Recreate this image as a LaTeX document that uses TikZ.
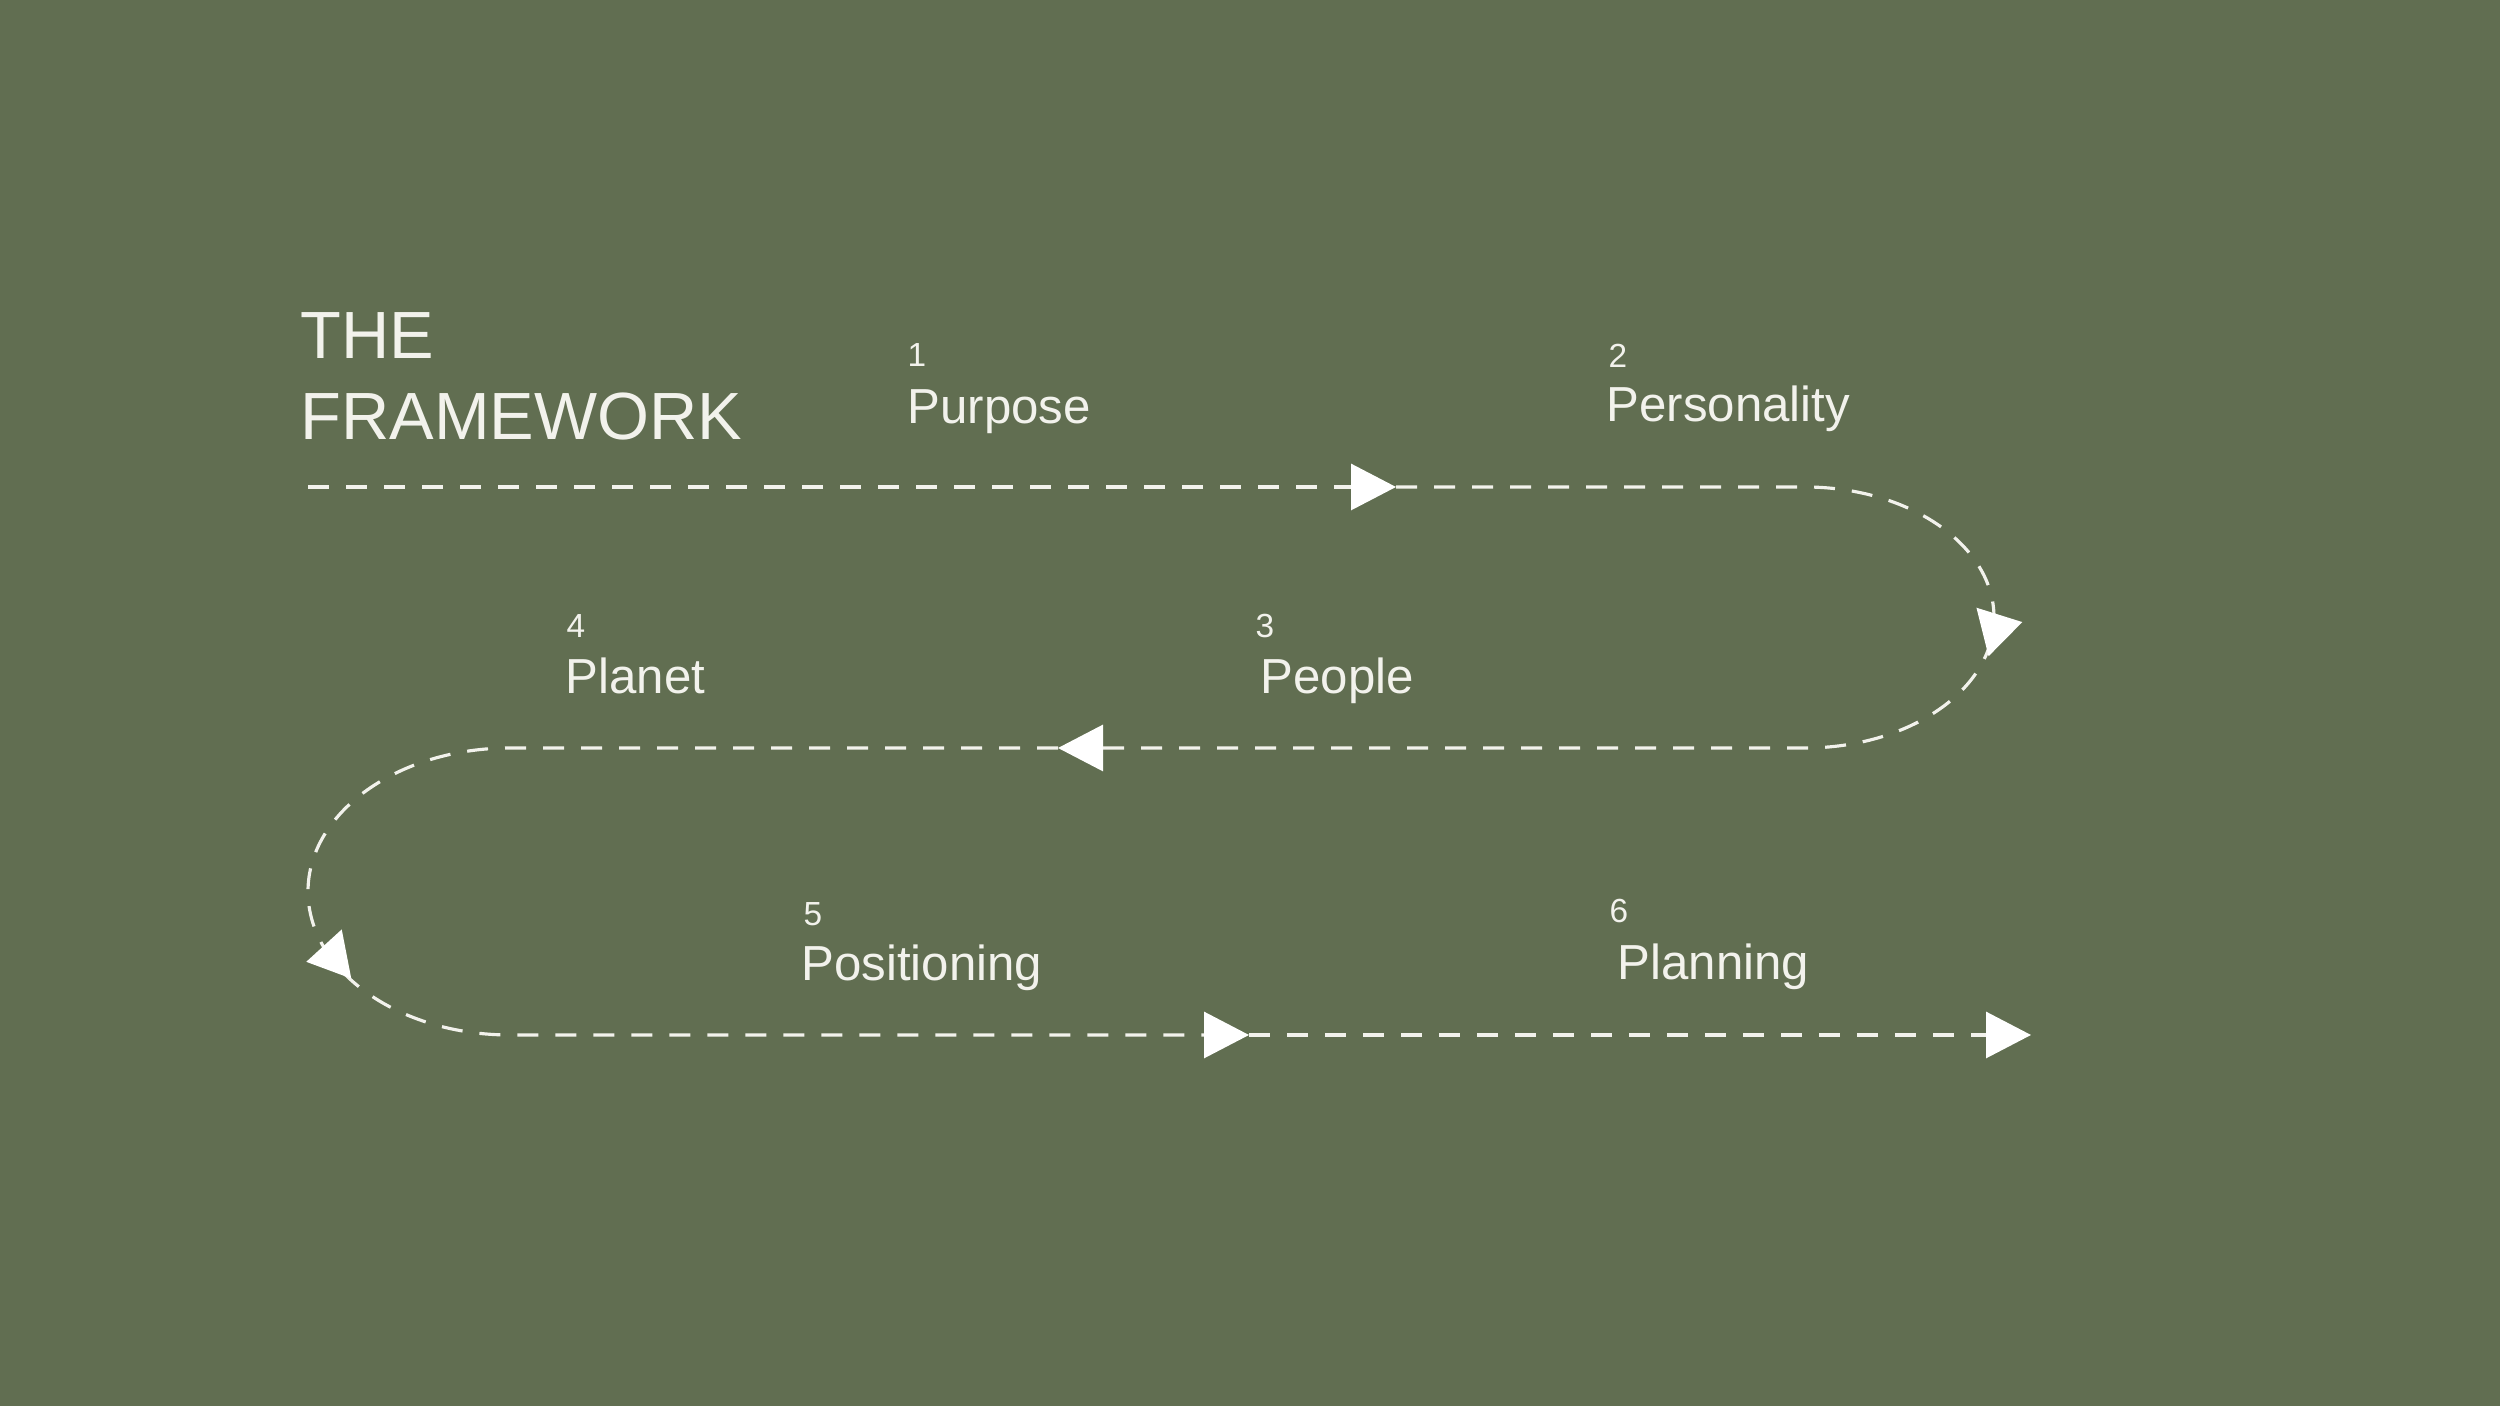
\documentclass[tikz,border=0pt]{standalone}
\usepackage{fontspec}
\setmainfont{Liberation Sans}
\usepackage{xcolor}
\usetikzlibrary{arrows.meta,calc}
\definecolor{sage}{HTML}{616E51}
\definecolor{chalk}{HTML}{F2F2EC}

\begin{document}
\begin{tikzpicture}[line width=0.9pt,
  trail/.style={chalk,dash pattern=on 2.1mm off 1.7mm},
  trailtip/.style={-{Triangle[length=4.5mm,width=4.6mm,color=white]}},
  heading/.style={anchor=base west,inner sep=0,text=chalk,font=\fontsize{19}{23}\selectfont},
  stepnum/.style={anchor=base west,inner sep=0,text=chalk,font=\fontsize{9.5}{11}\selectfont},
  steplabel/.style={anchor=base west,inner sep=0,text=chalk,font=\fontsize{14}{16}\selectfont}]
  % background
  \fill[sage] (0,0) rectangle (25,14.06);

  % title
  \node[heading] (the) at (2.99,10.47) {THE};
  \node[heading] (framework) at (2.99,9.66) {FRAMEWORK};

  % steps
  \node[stepnum]   (n1) at (9.06,10.39) {1};
  \node[steplabel] (purpose) at (9.06,9.82) {Purpose};
  \node[stepnum]   (n2) at (16.07,10.38) {2};
  \node[steplabel] (personality) at (16.05,9.84) {Personality};
  \node[stepnum]   (n3) at (12.54,7.68) {3};
  \node[steplabel] (people) at (12.59,7.12) {People};
  \node[stepnum]   (n4) at (5.65,7.68) {4};
  \node[steplabel] (planet) at (5.64,7.12) {Planet};
  \node[stepnum]   (n5) at (8.02,4.80) {5};
  \node[steplabel] (positioning) at (8.00,4.25) {Positioning};
  \node[stepnum]   (n6) at (16.08,4.83) {6};
  \node[steplabel] (planning) at (16.16,4.26) {Planning};

  % the winding path
  \coordinate (start) at (3.08,9.19);
  \coordinate (a1) at (13.96,9.19);
  \coordinate (r1) at (18.05,9.19);
  \coordinate (a3) at (10.58,6.58);
  \coordinate (l1) at (5.10,6.58);
  \coordinate (a5) at (12.49,3.71);
  \coordinate (fin) at (20.31,3.71);

  \draw[trail,trailtip] (start) -- (a1);
  \draw[trail,trailtip] (a1) -- (r1)
    arc[start angle=90,end angle=-90,x radius=1.89,y radius=1.305] -- (a3);
  \draw[trail,trailtip] (a3) -- (l1)
    arc[start angle=90,end angle=270,x radius=2.02,y radius=1.435] -- (a5);
  \draw[trail,trailtip] (a5) -- (fin);

  % markers on the bends
  \begin{scope}[shift={(19.825,7.74)},rotate=14]
    \fill[white] (0,0.25) -- (0.41,0) -- (0,-0.25) -- cycle;
  \end{scope}
  \begin{scope}[shift={(3.465,4.52)},rotate=191]
    \fill[white] (0,0.25) -- (0.41,0) -- (0,-0.25) -- cycle;
  \end{scope}
\end{tikzpicture}
\end{document}
